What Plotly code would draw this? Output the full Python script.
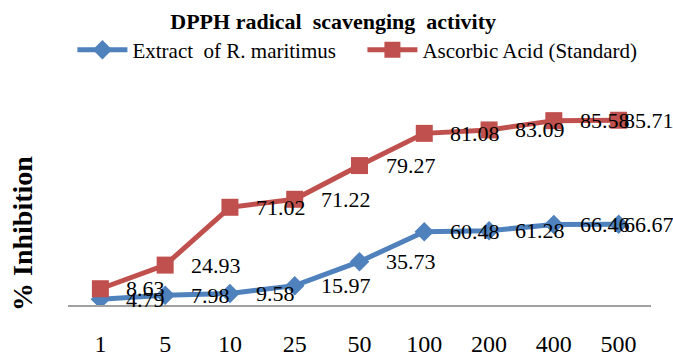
import numpy as np
import plotly.graph_objects as go

concentrations = ["1", "5", "10", "25", "50", "100", "200", "400", "500"]
extract_values = [4.79, 7.98, 9.58, 15.97, 35.73, 60.48, 61.28, 66.46, 66.67]
ascorbic_values = [8.63, 24.93, 71.02, 71.22, 79.27, 81.08, 83.09, 85.58, 85.71]

BLUE = "#4F81BD"
RED = "#C0504D"
SERIF = "Times New Roman, Liberation Serif, serif"

fig = go.Figure()
fig.add_trace(go.Scatter(
    x=concentrations, y=extract_values, name="Extract  of R. maritimus",
    mode="lines+markers", stackgroup="one", fill="none",
    line=dict(color=BLUE, width=5),
    marker=dict(symbol="diamond", size=15, color=BLUE),
))
fig.add_trace(go.Scatter(
    x=concentrations, y=ascorbic_values, name="Ascorbic Acid (Standard)",
    mode="lines+markers", stackgroup="one", fill="none",
    line=dict(color=RED, width=5),
    marker=dict(symbol="square", size=17, color=RED),
))

# data labels at the stacked positions (category index used as x)
stack_blue = np.array(extract_values)
stack_red = stack_blue + np.array(ascorbic_values)
n = len(concentrations)
annotations = []
for vals, ys in ((extract_values, stack_blue), (ascorbic_values, stack_red)):
    for i, (v, yv) in enumerate(zip(vals, ys)):
        annotations.append(dict(
            x=i, y=float(yv), xref="x", yref="y", text=f"{v:.2f}",
            showarrow=False, xanchor="left", yanchor="middle",
            xshift=24 if i < n - 1 else 3,
            font=dict(family=SERIF, size=22, color="black"),
        ))

annotations.append(dict(
    text="<b>% Inhibition</b>", textangle=-90, showarrow=False,
    xref="paper", yref="paper", x=-0.079, y=0.371,
    xanchor="center", yanchor="middle",
    font=dict(family=SERIF, size=28, color="black"),
))

fig.update_layout(
    width=673, height=358,
    margin=dict(l=68, r=22, t=111, b=53, autoexpand=False),
    paper_bgcolor="white", plot_bgcolor="white",
    title=dict(text="<b>DPPH radical  scavenging  activity</b>",
               x=0.495, xref="container", xanchor="center",
               y=0.941, yref="container", yanchor="middle",
               font=dict(family=SERIF, size=22, color="black")),
    legend=dict(orientation="h", x=0.505, xanchor="center", y=1.314, yanchor="middle",
                font=dict(family=SERIF, size=21, color="black"),
                itemwidth=50, entrywidth=225, entrywidthmode="pixels",
                bgcolor="rgba(0,0,0,0)"),
    showlegend=True,
    annotations=annotations,
    xaxis=dict(type="category", range=[-0.5, n - 0.5], showgrid=False, zeroline=False,
               showline=True, linecolor="#A0A0A0", linewidth=2, automargin=False,
               ticks="", ticklabelstandoff=16,
               tickfont=dict(family=SERIF, size=24, color="black")),
    yaxis=dict(range=[0, 160], showgrid=False, zeroline=False, automargin=False,
               showline=False, showticklabels=False, ticks=""),
)

fig.write_html("out.html")
